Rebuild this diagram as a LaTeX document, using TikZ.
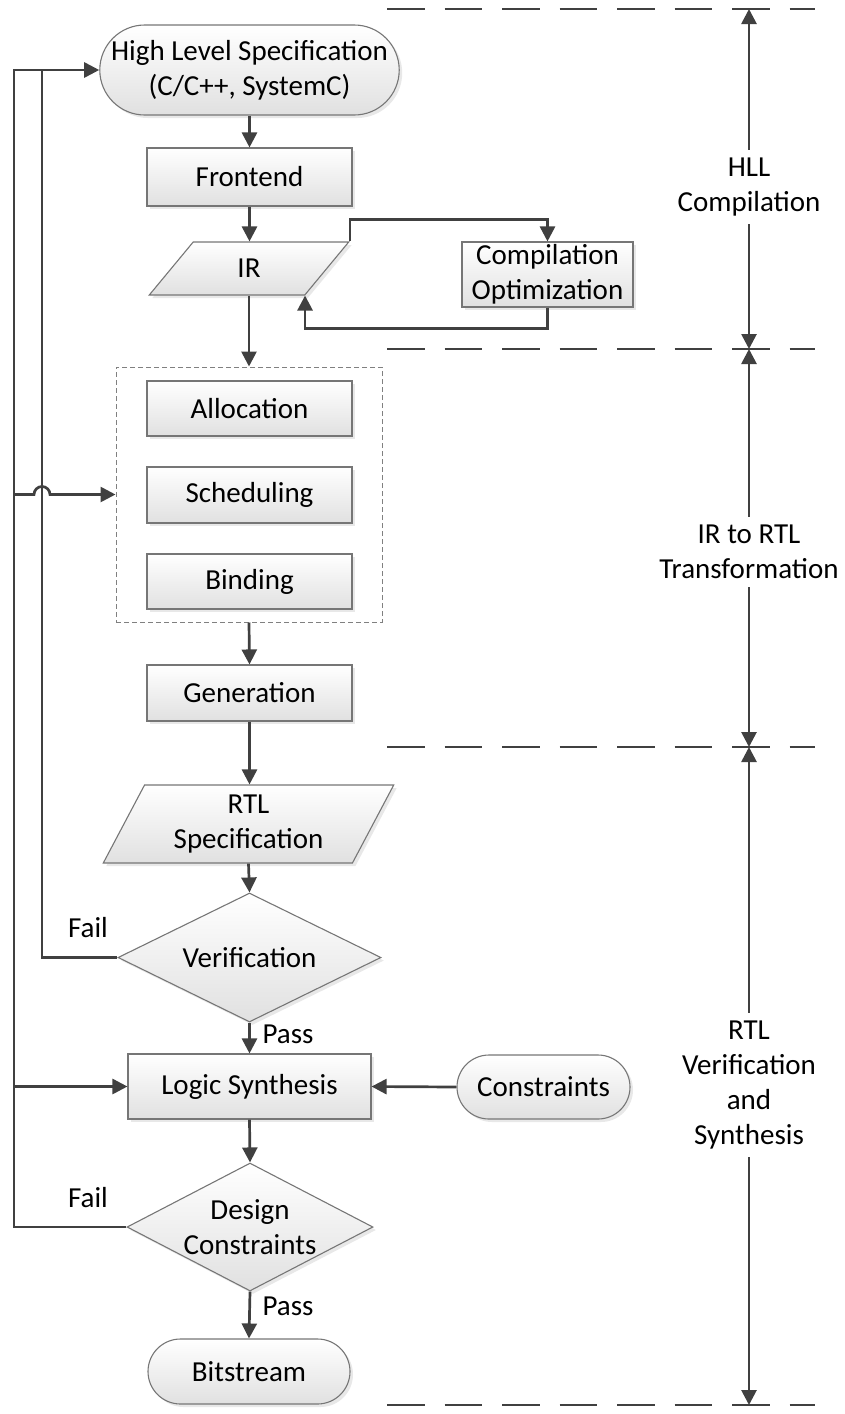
\documentclass[tikz,border=0pt]{standalone}
\usepackage{fontspec}
\setmainfont{Carlito}
\usetikzlibrary{shapes.geometric,shapes.misc,arrows.meta,shadows,calc}
\definecolor{wire}{HTML}{404040}
\definecolor{edge}{HTML}{767676}
\definecolor{grpedge}{HTML}{808080}
\begin{document}
\begin{tikzpicture}[x=1pt,y=-1pt,
  font=\fontsize{29}{35}\selectfont,
  base/.style={draw=edge, line width=1.1pt, top color=white, bottom color=black!12,
    inner sep=0pt, align=center,
    drop shadow={shadow xshift=3pt, shadow yshift=-3pt, opacity=0.18}},
  proc/.style={base, rectangle},
  term/.style={base, rounded rectangle},
  io/.style={base, trapezium, trapezium stretches=true},
  decision/.style={base, diamond},
  group/.style={draw=grpedge, line width=1pt, dash pattern=on 5pt off 3pt, inner sep=0pt},
  wireline/.style={draw=wire, line width=2.7pt},
  flow/.style={wireline, -{Triangle[length=15pt,width=15pt]}},
  sep/.style={draw=wire, line width=2.7pt, dash pattern=on 37.5pt off 20pt},
  side/.style={align=center, inner xsep=2pt, inner ysep=8pt},
  tag/.style={inner sep=0pt}
]
\useasboundingbox (0,0) rectangle (845,1414);

% main flow
\node[term, minimum width=291pt, minimum height=90pt] (hls) at (249.5,70) {High Level Specification\\(C/C++, SystemC)};
\node[proc, minimum width=205pt, minimum height=58pt] (fe) at (249.5,177) {Frontend};
\node[io, trapezium left angle=64, trapezium right angle=116,
      minimum width=200pt, minimum height=53pt] (ir) at (249,268.5) {IR};
\node[proc, minimum width=171pt, minimum height=65pt] (copt) at (547.5,274.5) {Compilation\\Optimization};

\node[group, minimum width=266pt, minimum height=255pt] (grp) at (249,494.5) {};
\node[proc, minimum width=205pt, minimum height=55pt] (alloc) at (249.5,408.5) {Allocation};
\node[proc, minimum width=205pt, minimum height=56pt] (sched) at (249.5,495) {Scheduling};
\node[proc, minimum width=205pt, minimum height=55pt] (bind) at (249.5,581.5) {Binding};

\node[proc, minimum width=205pt, minimum height=56pt] (gen) at (249.5,693) {Generation};
\node[io, trapezium left angle=63, trapezium right angle=117,
      minimum width=291pt, minimum height=78pt] (rtl) at (248.5,824) {RTL\\Specification};
\node[decision, aspect=2, minimum width=263pt, minimum height=129pt] (ver) at (249.5,957.5) {Verification};
\node[proc, minimum width=243pt, minimum height=65pt] (syn) at (249.5,1086.5) {Logic Synthesis};
\node[term, minimum width=173pt, minimum height=64pt] (cons) at (543.5,1087) {Constraints};
\node[decision, aspect=1.9, minimum width=246pt, minimum height=128pt] (dc) at (250,1227) {Design\\Constraints};
\node[term, minimum width=202pt, minimum height=65pt] (bit) at (249,1371.5) {Bitstream};

% branch labels
\node[tag] (fail1) at (88,928) {Fail};
\node[tag] (fail2) at (88,1198) {Fail};
\node[tag] (pass1) at (288,1034) {Pass};
\node[tag] (pass2) at (288,1306) {Pass};

% connectors
\draw[flow] (hls.south) -- (fe.north);
\draw[flow] (fe.south) -- (fe.south |- ir.north);
\draw[flow] (ir.top right corner) -- ++(0,-22) -| (copt.north);
\draw[flow] (copt.south) -- ++(0,21) -| (ir.bottom right corner);
\draw[flow] (ir.center |- ir.south) -- (grp.north);
\draw[flow] (grp.south) -- (gen.north);
\draw[flow] (gen.south) -- (gen.south |- rtl.north);
\draw[flow] (rtl.center |- rtl.south) -- (ver.north);
\draw[flow] (ver.south) -- (syn.north);
\draw[flow] (cons.west) -- (syn.east);
\draw[flow] (syn.south) -- (dc.north);
\draw[flow] (dc.south) -- (bit.north);

% feedback rails
\coordinate (railO) at (14,70);
\coordinate (railI) at (42,70);
\draw[flow] (dc.west) -| (railO) -- (hls.west);
\draw[wireline] (ver.west) -| (railI);
\draw[flow] (railO |- syn.west) -- (syn.west);
\draw[flow] (railO |- grp.west) -- ($(railI |- grp.west)+(-8,0)$)
  arc[start angle=180, end angle=360, radius=8] -- (grp.west);

% phase separators
\foreach \yy in {9,349,747,1405}
  \draw[sep] (387,\yy) -- (815,\yy);
\coordinate (s1) at (749,9);
\coordinate (s2) at (749,349);
\coordinate (s3) at (749,747);
\coordinate (s4) at (749,1405);

\node[side] (hll) at (749,187) {HLL\\Compilation};
\draw[flow] (hll.north) -- (s1);
\draw[flow] (hll.south) -- (s2);
\node[side] (irt) at (749,552) {IR to RTL\\Transformation};
\draw[flow] (irt.north) -- (s2);
\draw[flow] (irt.south) -- (s3);
\node[side] (rvs) at (749,1085) {RTL\\Verification\\and\\Synthesis};
\draw[flow] (rvs.north) -- (s3);
\draw[flow] (rvs.south) -- (s4);
\end{tikzpicture}
\end{document}
